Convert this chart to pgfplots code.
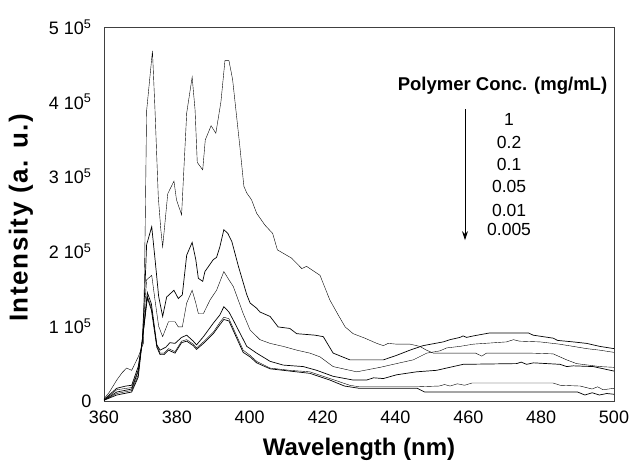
\documentclass[border=0pt]{standalone}
\usepackage{fontspec}
\setmainfont{Liberation Sans}
\usepackage{pgfplots}
\pgfplotsset{compat=1.18}
\usetikzlibrary{arrows.meta}

\begin{document}
\begin{tikzpicture}
\begin{axis}[
    width=510bp, height=374bp, scale only axis,
    xmin=360, xmax=500, ymin=0, ymax=5,
    xtick={360,380,...,500},
    xticklabels={360,380,400,420,440,460,480,500},
    ytick={0,1,2,3,4,5},
    yticklabels={0,1 10\textsuperscript{5},2 10\textsuperscript{5},3 10\textsuperscript{5},4 10\textsuperscript{5},5 10\textsuperscript{5}},
    major tick length=0pt,
    axis line style={black!75, line width=0.8pt},
    tick label style={font=\fontsize{18bp}{21bp}\selectfont},
    xticklabel style={yshift=-6bp},
    yticklabel style={xshift=-9bp},
    xlabel={Wavelength (nm)},
    ylabel={\addfontfeature{LetterSpace=6}Intensity (a. u.)},
    xlabel style={font=\fontsize{24bp}{28bp}\selectfont\bfseries, at={(axis description cs:0.5,-0.13)}, anchor=center},
    ylabel style={font=\fontsize{26bp}{30bp}\selectfont\bfseries, at={(axis description cs:-0.163,0.49)}, anchor=center},
    cycle list={{black, line width=0.7pt}},
    clip=false,
]
% 1 mg/mL
\addplot coordinates {(360,0.03) (361.5,0.12) (363.5,0.28) (365,0.38) (366.2,0.44) (367.6,0.41) (369.4,0.59) (370.8,0.77) (371.3,2.3) (371.7,3.88) (373.3,4.68) (374,3.89) (374.9,2.73) (375.6,2.29) (376.1,2.06) (377.5,2.77) (379.2,2.94) (379.9,2.69) (381.3,2.49) (382.7,3.85) (384.2,4.33) (385,3.89) (385.6,3.19) (387.1,3.09) (387.8,3.49) (389.4,3.68) (390.7,3.58) (392.1,4.00) (393.2,4.55) (394.3,4.55) (395.3,4.30) (397.3,3.40) (398.4,2.87) (399.2,2.78) (400.5,2.69) (401.9,2.51) (404.2,2.35) (406.3,2.24) (407.6,2.02) (411.5,1.91) (414.3,1.77) (415.6,1.80) (419.3,1.68) (422,1.35) (424.3,1.15) (426.2,0.99) (428.4,0.90) (431.6,0.84) (434.9,0.77) (436.7,0.74) (438,0.77) (440.3,0.76) (444,0.76) (446.7,0.73) (448.5,0.68) (450.4,0.64) (455,0.64) (462,0.64) (463.7,0.60) (465,0.64) (470,0.64) (477,0.64) (483.3,0.63) (487,0.55) (489.7,0.50) (496.1,0.46) (500,0.45)};
% 0.2 mg/mL
\addplot coordinates {(360,0.02) (363.5,0.17) (366,0.20) (367.6,0.21) (369.4,0.46) (370.5,0.8) (371.3,1.6) (371.7,2.09) (373.1,2.33) (374,1.9) (375,1.4) (376.1,1.13) (377.2,1.39) (379.2,1.48) (380.4,1.37) (381.5,1.42) (382.7,1.95) (384.2,2.12) (385.2,1.89) (385.9,1.64) (387.1,1.60) (387.7,1.73) (390,1.89) (390.9,1.92) (391.8,2.06) (392.9,2.29) (394,2.24) (395.1,2.13) (396.9,1.80) (399.2,1.42) (400.1,1.31) (401.9,1.24) (402.8,1.19) (405.6,1.13) (407.8,0.99) (411,0.97) (412.9,0.90) (417.9,0.88) (420.2,0.86) (422.9,0.64) (427.5,0.55) (436.7,0.55) (440.3,0.61) (444,0.68) (447.6,0.74) (453.1,0.79) (455,0.82) (457.7,0.85) (458.6,0.87) (459.5,0.85) (461.4,0.87) (465.9,0.91) (476.5,0.91) (477.8,0.88) (483.3,0.84) (484.5,0.81) (488.8,0.79) (492.5,0.77) (496.1,0.73) (500,0.70)};
% 0.1 mg/mL
\addplot coordinates {(360,0.01) (363.5,0.15) (367.6,0.18) (369.4,0.42) (370.5,0.8) (371.7,1.62) (373.1,1.68) (374,1.35) (375,1.0) (376.1,0.86) (377.7,1.06) (379.5,1.06) (380.4,0.99) (381.5,0.99) (382.7,1.31) (384.2,1.48) (385.2,1.31) (385.9,1.17) (387.3,1.17) (389.1,1.35) (390.9,1.48) (392.9,1.73) (394.3,1.62) (395.5,1.53) (398.2,1.17) (400.1,0.95) (402.8,0.82) (405.6,0.77) (409.2,0.73) (412.9,0.68) (416.5,0.64) (419.3,0.59) (422.9,0.46) (427.5,0.41) (429.4,0.39) (435.8,0.45) (440.3,0.50) (444.9,0.55) (448.6,0.64) (452.2,0.67) (454.1,0.71) (457.7,0.73) (461.4,0.76) (470.5,0.79) (472.4,0.82) (474,0.80) (479.7,0.79) (485,0.76) (488.8,0.73) (492.5,0.70) (496,0.68) (500,0.65)};
% 0.05 mg/mL
\addplot coordinates {(360,0.01) (363.5,0.12) (367.6,0.16) (369.4,0.40) (370.5,0.8) (371.9,1.45) (373,1.3) (374.5,0.75) (375.4,0.68) (377,0.72) (378.1,0.78) (379.5,0.77) (381.3,0.85) (382.7,0.88) (384.5,0.80) (385.4,0.75) (387.3,0.86) (390,1.04) (391.8,1.15) (392.9,1.26) (394.3,1.19) (395.5,1.08) (399.2,0.73) (401.9,0.64) (405.6,0.53) (409.2,0.48) (414.7,0.46) (418.4,0.41) (422.9,0.33) (428.4,0.28) (432.1,0.28) (434,0.31) (436.7,0.30) (440.3,0.35) (445.8,0.39) (451.3,0.41) (454,0.44) (458.6,0.49) (473.3,0.50) (474.5,0.52) (476,0.49) (477.9,0.51) (485.2,0.49) (487,0.46) (488.8,0.47) (494.3,0.46) (500,0.40)};
% 0.01 mg/mL
\addplot coordinates {(360,0.01) (363.5,0.10) (367.6,0.14) (369.4,0.35) (370.5,0.8) (371.9,1.40) (373,1.25) (374.5,0.75) (375.4,0.64) (376.5,0.64) (377.7,0.70) (379.5,0.66) (381.3,0.80) (382.7,0.82) (384.5,0.76) (385.4,0.71) (387.3,0.79) (390,0.92) (391.8,1.05) (392.9,1.12) (394.3,1.10) (395.5,0.97) (398.2,0.68) (400.1,0.61) (401.9,0.53) (405.6,0.44) (411,0.41) (416.5,0.39) (422,0.30) (427.5,0.21) (430,0.19) (446,0.19) (452,0.20) (453.5,0.22) (455,0.20) (457,0.23) (459,0.21) (461,0.24) (483.3,0.24) (485.2,0.21) (490.7,0.20) (494,0.16) (495.5,0.19) (497,0.15) (500,0.17)};
% 0.005 mg/mL
\addplot coordinates {(360,0.01) (363.5,0.08) (367.6,0.12) (369.4,0.32) (370.5,0.8) (371.9,1.38) (373,1.22) (374.5,0.72) (375.4,0.62) (376.5,0.62) (377.7,0.68) (379.5,0.64) (381.3,0.78) (382.7,0.80) (384.5,0.74) (385.4,0.69) (387.3,0.77) (390,0.90) (391.8,1.02) (392.9,1.09) (394.3,1.07) (395.5,0.94) (398.2,0.65) (400.1,0.59) (401.9,0.51) (405.6,0.43) (411,0.40) (416.5,0.37) (422,0.28) (426,0.20) (430,0.17) (446,0.17) (448,0.12) (490,0.12) (492,0.08) (494,0.11) (496,0.08) (498,0.10) (500,0.09)};

\node[font=\fontsize{18.5bp}{21bp}\selectfont\bfseries] at (axis cs:469.4,4.22) {Polymer Conc. (mg/mL)};
\begin{scope}[every node/.style={font=\fontsize{17.5bp}{20bp}\selectfont}]
\node at (axis cs:471.2,3.77) {1};
\node at (axis cs:471.2,3.45) {0.2};
\node at (axis cs:471.2,3.16) {0.1};
\node at (axis cs:471.2,2.87) {0.05};
\node at (axis cs:471.2,2.55) {0.01};
\node at (axis cs:471.2,2.29) {0.005};
\end{scope}
\draw[black, line width=0.8pt, -{Stealth[length=9bp, width=6bp]}] (axis cs:459.1,3.90) -- (axis cs:459.1,2.15);
\end{axis}
\pgfresetboundingbox
\path ([shift={(-104bp,-63bp)}]current axis.south west) rectangle ([shift={(19bp,27bp)}]current axis.north east);
\end{tikzpicture}
\end{document}
